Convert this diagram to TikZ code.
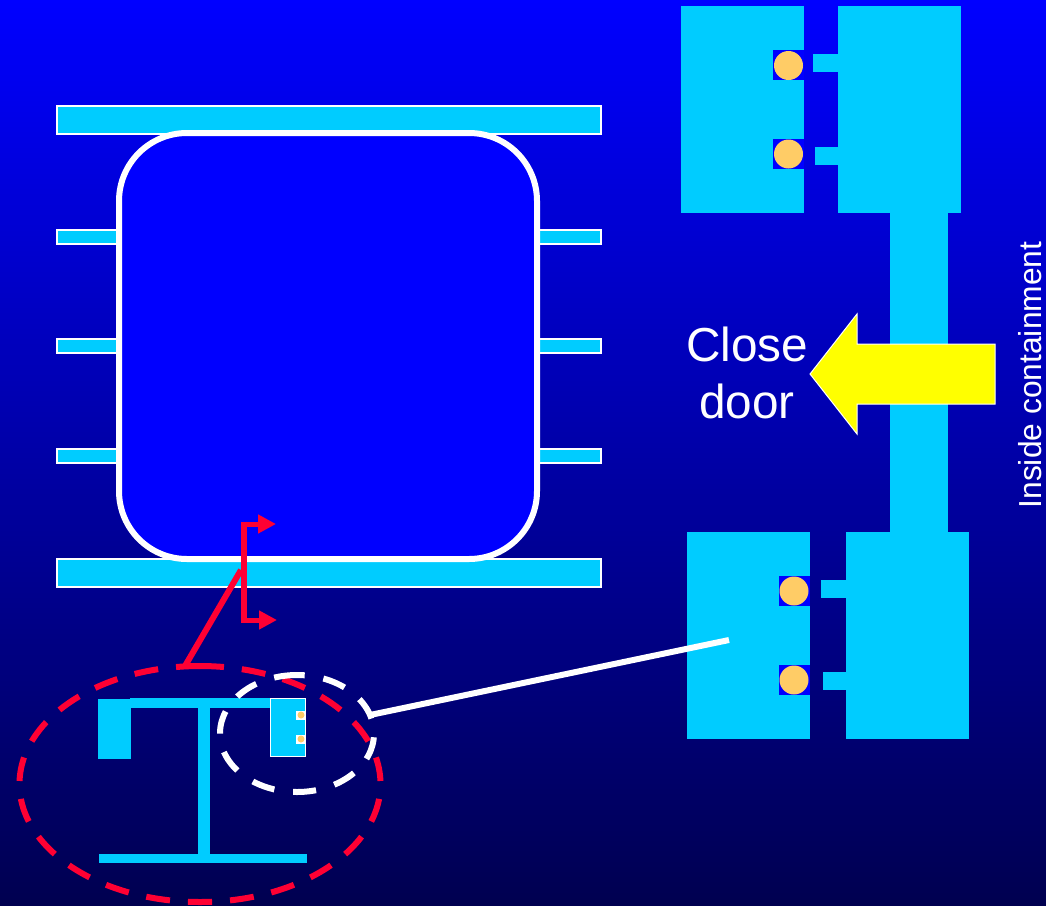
\documentclass[tikz,border=0pt]{standalone}
\usepackage{fontspec}
\setmainfont{Liberation Sans}
\usetikzlibrary{arrows.meta}
\definecolor{skyfill}{HTML}{00CCFF}
\definecolor{pinfill}{HTML}{FFCC66}
\definecolor{redmark}{HTML}{FF0033}
\definecolor{topblue}{HTML}{0000FF}
\definecolor{lowblue}{HTML}{000050}
\definecolor{arrowfill}{HTML}{FFFF00}
\begin{document}
\begin{tikzpicture}[x=1pt,y=-1pt,
    part/.style={fill=skyfill},
    bar/.style={fill=skyfill,draw=white,line width=1.5pt},
    slot/.style={fill=topblue},
    pin/.style={fill=pinfill},
    redline/.style={draw=redmark,line width=6pt},
    redtip/.style={redmark,line width=5pt,-{Triangle[length=18pt,width=18pt]}},
    redring/.style={draw=redmark,line width=6pt,dash pattern=on 24pt off 18pt},
    whitering/.style={draw=white,line width=6pt,dash pattern=on 23pt off 19pt}]
    \useasboundingbox (0,0) rectangle (1046,905);
    % Fondo
    \shade[top color=topblue,bottom color=lowblue] (0,0) rectangle (1046,905);
    % Bars behind the vessel
    \draw[bar] (57,106) rectangle (601,134);
    \draw[bar] (57,559) rectangle (601,587);
    \draw[bar] (57,230) rectangle (601,244);
    \draw[bar] (57,339) rectangle (601,353);
    \draw[bar] (57,449) rectangle (601,463);
    % Vessel
    \draw[draw=white,fill=topblue,line width=6pt,rounded corners=68pt] (119,133) rectangle (537,559);
    % Red arrows
    \coordinate (bendtop) at (244,524);
    \coordinate (bendlow) at (244,620);
    \coordinate (redstart) at (185,666);
    \coordinate (redend) at (241,570);
    \draw[redline] (244,521.5) -- (244,622.5);
    \draw[redtip] (bendtop) -- (276,524);
    \draw[redtip] (bendlow) -- (277,620);
    \draw[redline] (redstart) -- (redend);
    % Small section
    \fill[part] (98,699) rectangle (131,759);
    \fill[part] (130,698) rectangle (271,708);
    \fill[part] (198,708) rectangle (210,855);
    \fill[part] (99,854) rectangle (307,863);
    \draw[fill=skyfill,draw=white,line width=1pt] (270.5,698.5) rectangle (305.5,756);
    \fill[white] (296,711) rectangle (305,720);
    \fill[white] (296,735) rectangle (305,744);
    \fill[pin] (301,715) circle (3.5);
    \fill[pin] (301,739) circle (3.5);
    % Dashed rings
    \draw[redring] (200,666) arc[start angle=-90,end angle=90,x radius=180.5,y radius=118];
    \draw[redring] (200,666) arc[start angle=-90,end angle=-270,x radius=180.5,y radius=118];
    \draw[whitering] (297,675) arc[start angle=-90,end angle=-450,x radius=77,y radius=58.5];
    % Upper door
    \fill[part] (681,6) rectangle (804,213);
    \fill[part] (838,6) rectangle (961,213);
    \fill[part] (813,54) rectangle (838,72);
    \fill[part] (815,147) rectangle (838,165);
    \fill[slot] (773,50) rectangle (804,80);
    \fill[slot] (773,139) rectangle (804,169);
    \fill[pin] (788.5,65.5) circle (14.5);
    \fill[pin] (788.5,154) circle (14.5);
    % Lower door
    \fill[part] (687,532) rectangle (810,739);
    \fill[part] (846,532) rectangle (969,739);
    \fill[part] (821,580) rectangle (846,598);
    \fill[part] (823,672) rectangle (846,690);
    \fill[slot] (779,576) rectangle (810,606);
    \fill[slot] (779,665) rectangle (810,695);
    \fill[pin] (794,591) circle (14.5);
    \fill[pin] (794,680) circle (14.5);
    % Column
    \fill[part] (890,213) rectangle (948,532);
    % Yellow arrow
    \draw[fill=arrowfill,draw=white,line width=1pt] (810,374) -- (857,314) -- (857,344) -- (995,344) -- (995,404) -- (857,404) -- (857,434) -- cycle;
    % White leader
    \coordinate (leadstart) at (370,715);
    \coordinate (leadend) at (729,640);
    \draw[white,line width=6pt] (leadstart) -- (leadend);
    % Labels
    \node[white,font=\fontsize{47.7}{57}\selectfont,align=center] (doorlabel) at (747,373) {Close\\door};
    \node[white,font=\fontsize{31.8}{38}\selectfont,rotate=90] (insidelabel) at (1030,375) {Inside containment};
\end{tikzpicture}
\end{document}
